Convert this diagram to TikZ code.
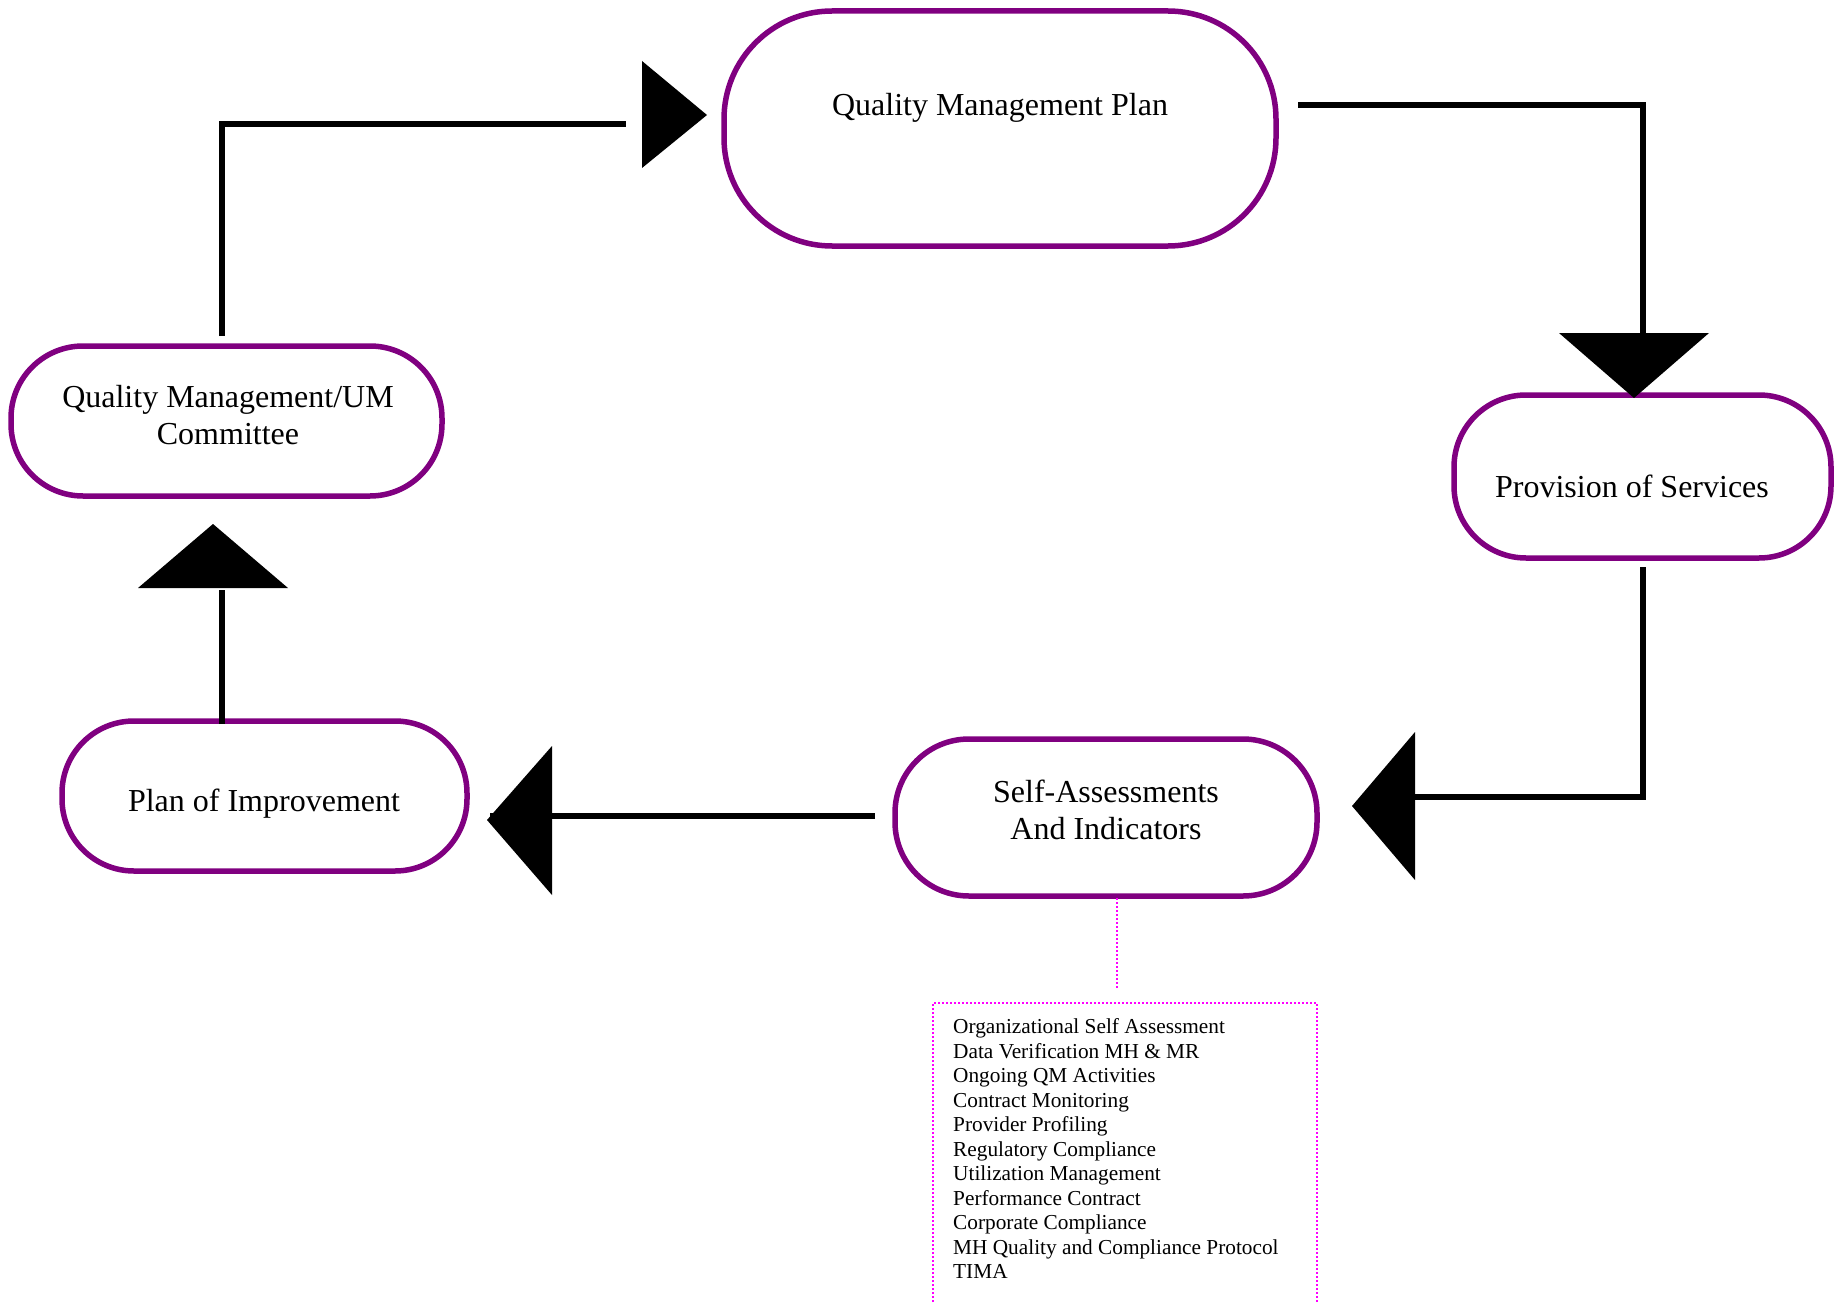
\documentclass[tikz,border=0pt]{standalone}
\usepackage{fontspec}
\setmainfont{Liberation Serif}
\definecolor{termpurple}{HTML}{800080}
\definecolor{dotmag}{HTML}{FF00FF}
\begin{document}
\begin{tikzpicture}[x=1pt,y=-1pt,
  termbox/.style={draw=termpurple, line width=5.5pt, fill=white, inner sep=0pt},
  termtext/.style={font=\fontsize{32}{37}\selectfont, align=center, inner sep=0pt},
  conn/.style={draw=black, line width=6pt},
  headfill/.style={fill=black},
  dotconn/.style={draw=dotmag, line width=2pt, dash pattern=on 2pt off 2pt},
  listtext/.style={font=\fontsize{21.3}{24.5}\selectfont, align=left, inner sep=0pt, anchor=north west}]
\useasboundingbox (0,0) rectangle (1834,1303);

% terminator shapes
\node[termbox, minimum width=552pt, minimum height=235pt, rounded corners=108pt] (qmp) at (1000,128.5) {};
\node[termbox, minimum width=431pt, minimum height=150pt, rounded corners=72pt] (com) at (226.5,421) {};
\node[termbox, minimum width=377pt, minimum height=163pt, rounded corners=72pt] (prov) at (1642.5,476.5) {};
\node[termbox, minimum width=422pt, minimum height=157pt, rounded corners=74pt] (self) at (1106,817.5) {};
\node[termbox, minimum width=405pt, minimum height=150pt, rounded corners=72pt] (poi) at (264.5,796) {};

% texts
\node[termtext] (qmpt) at (1000,107.5) {Quality Management Plan};
\node[termtext] (comt) at (228,415) {Quality Management/UM\\Committee};
\node[termtext] (provt) at (1632,486) {Provision of Services};
\node[termtext] (selft) at (1106,809.5) {Self-Assessments\\And Indicators};
\node[termtext] (poit) at (264,804) {Plan of Improvement};

% list box
\node[listtext] (lst) at (953,1018.5) {Organizational Self Assessment\\
Data Verification MH \& MR\\
Ongoing QM Activities\\
Contract Monitoring\\
Provider Profiling\\
Regulatory Compliance\\
Utilization Management\\
Performance Contract\\
Corporate Compliance\\
MH Quality and Compliance Protocol\\
TIMA};
\draw[dotconn] (933,1310) -- (933,1003) -- (1317,1003) -- (1317,1310);

% connector end points
\coordinate (a0) at (222,336);
\coordinate (a1) at (626,124);
\coordinate (b0) at (1298,105);
\coordinate (b1) at (1643,335);
\coordinate (c0) at (1643,567);
\coordinate (c1) at (1415,797);
\coordinate (d0) at (875,816);
\coordinate (d1) at (490,816);
\coordinate (e0) at (222,724);
\coordinate (e1) at (222,590);
\coordinate (f0) at (1117,898);
\coordinate (f1) at (1117,988);

% connectors
\draw[conn] (a0) |- (a1);
\fill[headfill] (642,61) -- (642,168) -- (707,115) -- cycle;

\draw[conn] (b0) -| (b1);
\fill[headfill] (1559,333) -- (1709,333) -- (1634,398) -- cycle;

\draw[conn] (c0) |- (c1);
\fill[headfill] (1415,732) -- (1415,880) -- (1352,806) -- cycle;

\draw[conn] (d0) -- (d1);
\fill[headfill] (552,746) -- (552,895) -- (487,820) -- cycle;

\draw[conn] (e0) -- (e1);
\fill[headfill] (138,588) -- (288,588) -- (213,524) -- cycle;

\draw[dotconn] (f0) -- (f1);
\end{tikzpicture}
\end{document}
